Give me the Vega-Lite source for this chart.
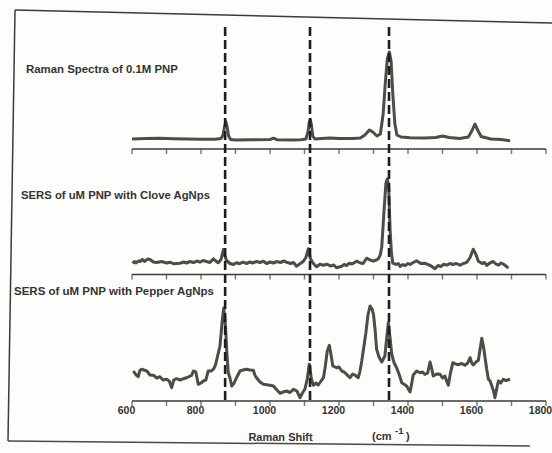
{
  "$schema": "https://vega.github.io/schema/vega-lite/v6.json",
  "width": 537,
  "height": 427,
  "autosize": {"type": "none"},
  "padding": {"left": 15, "top": 14, "right": 0, "bottom": 12},
  "background": "#fdfdfc",
  "config": {"view": {"stroke": null}, "font": "Liberation Sans"},
  "datasets": {
    "spectra": [
      {"series": "Raman 0.1M PNP", "shift": 600, "intensity": 302},
      {"series": "Raman 0.1M PNP", "shift": 640, "intensity": 302.5},
      {"series": "Raman 0.1M PNP", "shift": 680, "intensity": 302.8},
      {"series": "Raman 0.1M PNP", "shift": 720, "intensity": 302.3},
      {"series": "Raman 0.1M PNP", "shift": 760, "intensity": 302},
      {"series": "Raman 0.1M PNP", "shift": 800, "intensity": 301.8},
      {"series": "Raman 0.1M PNP", "shift": 840, "intensity": 301.8},
      {"series": "Raman 0.1M PNP", "shift": 858, "intensity": 302.5},
      {"series": "Raman 0.1M PNP", "shift": 864, "intensity": 306},
      {"series": "Raman 0.1M PNP", "shift": 868, "intensity": 314},
      {"series": "Raman 0.1M PNP", "shift": 872, "intensity": 319.5},
      {"series": "Raman 0.1M PNP", "shift": 876, "intensity": 314},
      {"series": "Raman 0.1M PNP", "shift": 880, "intensity": 305},
      {"series": "Raman 0.1M PNP", "shift": 886, "intensity": 301.5},
      {"series": "Raman 0.1M PNP", "shift": 900, "intensity": 301},
      {"series": "Raman 0.1M PNP", "shift": 950, "intensity": 301.2},
      {"series": "Raman 0.1M PNP", "shift": 1000, "intensity": 301.5},
      {"series": "Raman 0.1M PNP", "shift": 1010, "intensity": 302.8},
      {"series": "Raman 0.1M PNP", "shift": 1020, "intensity": 301.3},
      {"series": "Raman 0.1M PNP", "shift": 1060, "intensity": 301},
      {"series": "Raman 0.1M PNP", "shift": 1090, "intensity": 301.3},
      {"series": "Raman 0.1M PNP", "shift": 1104, "intensity": 302},
      {"series": "Raman 0.1M PNP", "shift": 1110, "intensity": 309},
      {"series": "Raman 0.1M PNP", "shift": 1114, "intensity": 319},
      {"series": "Raman 0.1M PNP", "shift": 1117, "intensity": 321.5},
      {"series": "Raman 0.1M PNP", "shift": 1120, "intensity": 316},
      {"series": "Raman 0.1M PNP", "shift": 1124, "intensity": 305},
      {"series": "Raman 0.1M PNP", "shift": 1130, "intensity": 302},
      {"series": "Raman 0.1M PNP", "shift": 1150, "intensity": 302.5},
      {"series": "Raman 0.1M PNP", "shift": 1174, "intensity": 303},
      {"series": "Raman 0.1M PNP", "shift": 1200, "intensity": 302.5},
      {"series": "Raman 0.1M PNP", "shift": 1240, "intensity": 302.5},
      {"series": "Raman 0.1M PNP", "shift": 1262, "intensity": 303},
      {"series": "Raman 0.1M PNP", "shift": 1275, "intensity": 306},
      {"series": "Raman 0.1M PNP", "shift": 1288, "intensity": 311},
      {"series": "Raman 0.1M PNP", "shift": 1298, "intensity": 309},
      {"series": "Raman 0.1M PNP", "shift": 1310, "intensity": 305},
      {"series": "Raman 0.1M PNP", "shift": 1320, "intensity": 307},
      {"series": "Raman 0.1M PNP", "shift": 1328, "intensity": 327},
      {"series": "Raman 0.1M PNP", "shift": 1334, "intensity": 357},
      {"series": "Raman 0.1M PNP", "shift": 1340, "intensity": 382},
      {"series": "Raman 0.1M PNP", "shift": 1346, "intensity": 389},
      {"series": "Raman 0.1M PNP", "shift": 1351, "intensity": 380},
      {"series": "Raman 0.1M PNP", "shift": 1356, "intensity": 347},
      {"series": "Raman 0.1M PNP", "shift": 1362, "intensity": 317},
      {"series": "Raman 0.1M PNP", "shift": 1368, "intensity": 306},
      {"series": "Raman 0.1M PNP", "shift": 1380, "intensity": 304},
      {"series": "Raman 0.1M PNP", "shift": 1406, "intensity": 303.3},
      {"series": "Raman 0.1M PNP", "shift": 1450, "intensity": 303},
      {"series": "Raman 0.1M PNP", "shift": 1480, "intensity": 303.5},
      {"series": "Raman 0.1M PNP", "shift": 1500, "intensity": 305},
      {"series": "Raman 0.1M PNP", "shift": 1520, "intensity": 303.5},
      {"series": "Raman 0.1M PNP", "shift": 1550, "intensity": 302.5},
      {"series": "Raman 0.1M PNP", "shift": 1575, "intensity": 304},
      {"series": "Raman 0.1M PNP", "shift": 1585, "intensity": 310},
      {"series": "Raman 0.1M PNP", "shift": 1594, "intensity": 317},
      {"series": "Raman 0.1M PNP", "shift": 1602, "intensity": 311},
      {"series": "Raman 0.1M PNP", "shift": 1612, "intensity": 304.5},
      {"series": "Raman 0.1M PNP", "shift": 1640, "intensity": 302},
      {"series": "Raman 0.1M PNP", "shift": 1670, "intensity": 301.5},
      {"series": "Raman 0.1M PNP", "shift": 1696, "intensity": 300.3},

      {"series": "SERS Clove AgNps", "shift": 602, "intensity": 177.5},
      {"series": "SERS Clove AgNps", "shift": 607, "intensity": 179.5},
      {"series": "SERS Clove AgNps", "shift": 612, "intensity": 178},
      {"series": "SERS Clove AgNps", "shift": 618, "intensity": 180},
      {"series": "SERS Clove AgNps", "shift": 623, "intensity": 179.5},
      {"series": "SERS Clove AgNps", "shift": 630, "intensity": 181.5},
      {"series": "SERS Clove AgNps", "shift": 637, "intensity": 179.5},
      {"series": "SERS Clove AgNps", "shift": 645, "intensity": 182},
      {"series": "SERS Clove AgNps", "shift": 652, "intensity": 181.5},
      {"series": "SERS Clove AgNps", "shift": 662, "intensity": 179},
      {"series": "SERS Clove AgNps", "shift": 672, "intensity": 178.5},
      {"series": "SERS Clove AgNps", "shift": 686, "intensity": 179.5},
      {"series": "SERS Clove AgNps", "shift": 700, "intensity": 178},
      {"series": "SERS Clove AgNps", "shift": 710, "intensity": 178.8},
      {"series": "SERS Clove AgNps", "shift": 720, "intensity": 177.3},
      {"series": "SERS Clove AgNps", "shift": 739, "intensity": 177.8},
      {"series": "SERS Clove AgNps", "shift": 750, "intensity": 179},
      {"series": "SERS Clove AgNps", "shift": 758, "intensity": 178},
      {"series": "SERS Clove AgNps", "shift": 768, "intensity": 179.5},
      {"series": "SERS Clove AgNps", "shift": 778, "intensity": 178.5},
      {"series": "SERS Clove AgNps", "shift": 790, "intensity": 180},
      {"series": "SERS Clove AgNps", "shift": 797, "intensity": 178.8},
      {"series": "SERS Clove AgNps", "shift": 806, "intensity": 180.5},
      {"series": "SERS Clove AgNps", "shift": 816, "intensity": 179.5},
      {"series": "SERS Clove AgNps", "shift": 826, "intensity": 178.5},
      {"series": "SERS Clove AgNps", "shift": 836, "intensity": 182.2},
      {"series": "SERS Clove AgNps", "shift": 843, "intensity": 180},
      {"series": "SERS Clove AgNps", "shift": 850, "intensity": 178.2},
      {"series": "SERS Clove AgNps", "shift": 858, "intensity": 181.5},
      {"series": "SERS Clove AgNps", "shift": 865, "intensity": 191.5},
      {"series": "SERS Clove AgNps", "shift": 870, "intensity": 184.5},
      {"series": "SERS Clove AgNps", "shift": 874, "intensity": 180.5},
      {"series": "SERS Clove AgNps", "shift": 884, "intensity": 177.5},
      {"series": "SERS Clove AgNps", "shift": 894, "intensity": 176.5},
      {"series": "SERS Clove AgNps", "shift": 903, "intensity": 178.3},
      {"series": "SERS Clove AgNps", "shift": 912, "intensity": 177.3},
      {"series": "SERS Clove AgNps", "shift": 922, "intensity": 178.8},
      {"series": "SERS Clove AgNps", "shift": 932, "intensity": 177.5},
      {"series": "SERS Clove AgNps", "shift": 942, "intensity": 179},
      {"series": "SERS Clove AgNps", "shift": 950, "intensity": 178},
      {"series": "SERS Clove AgNps", "shift": 961, "intensity": 179.5},
      {"series": "SERS Clove AgNps", "shift": 971, "intensity": 178.5},
      {"series": "SERS Clove AgNps", "shift": 981, "intensity": 179.8},
      {"series": "SERS Clove AgNps", "shift": 990, "intensity": 177.5},
      {"series": "SERS Clove AgNps", "shift": 1000, "intensity": 179},
      {"series": "SERS Clove AgNps", "shift": 1010, "intensity": 178},
      {"series": "SERS Clove AgNps", "shift": 1020, "intensity": 179.5},
      {"series": "SERS Clove AgNps", "shift": 1030, "intensity": 178.5},
      {"series": "SERS Clove AgNps", "shift": 1040, "intensity": 180},
      {"series": "SERS Clove AgNps", "shift": 1048, "intensity": 178.8},
      {"series": "SERS Clove AgNps", "shift": 1060, "intensity": 177.5},
      {"series": "SERS Clove AgNps", "shift": 1068, "intensity": 178.5},
      {"series": "SERS Clove AgNps", "shift": 1077, "intensity": 174.8},
      {"series": "SERS Clove AgNps", "shift": 1088, "intensity": 177.5},
      {"series": "SERS Clove AgNps", "shift": 1097, "intensity": 179.8},
      {"series": "SERS Clove AgNps", "shift": 1104, "intensity": 183.5},
      {"series": "SERS Clove AgNps", "shift": 1111, "intensity": 192.2},
      {"series": "SERS Clove AgNps", "shift": 1117, "intensity": 182.5},
      {"series": "SERS Clove AgNps", "shift": 1124, "intensity": 178.2},
      {"series": "SERS Clove AgNps", "shift": 1130, "intensity": 176},
      {"series": "SERS Clove AgNps", "shift": 1135, "intensity": 174.2},
      {"series": "SERS Clove AgNps", "shift": 1145, "intensity": 176.8},
      {"series": "SERS Clove AgNps", "shift": 1155, "intensity": 175.8},
      {"series": "SERS Clove AgNps", "shift": 1165, "intensity": 176.8},
      {"series": "SERS Clove AgNps", "shift": 1175, "intensity": 175},
      {"series": "SERS Clove AgNps", "shift": 1185, "intensity": 176},
      {"series": "SERS Clove AgNps", "shift": 1193, "intensity": 173.2},
      {"series": "SERS Clove AgNps", "shift": 1208, "intensity": 174.8},
      {"series": "SERS Clove AgNps", "shift": 1215, "intensity": 176.5},
      {"series": "SERS Clove AgNps", "shift": 1222, "intensity": 175.5},
      {"series": "SERS Clove AgNps", "shift": 1230, "intensity": 177.8},
      {"series": "SERS Clove AgNps", "shift": 1238, "intensity": 177},
      {"series": "SERS Clove AgNps", "shift": 1251, "intensity": 179.8},
      {"series": "SERS Clove AgNps", "shift": 1262, "intensity": 178},
      {"series": "SERS Clove AgNps", "shift": 1270, "intensity": 177.5},
      {"series": "SERS Clove AgNps", "shift": 1280, "intensity": 182.8},
      {"series": "SERS Clove AgNps", "shift": 1290, "intensity": 181},
      {"series": "SERS Clove AgNps", "shift": 1300, "intensity": 179.8},
      {"series": "SERS Clove AgNps", "shift": 1308, "intensity": 181},
      {"series": "SERS Clove AgNps", "shift": 1314, "intensity": 182.2},
      {"series": "SERS Clove AgNps", "shift": 1320, "intensity": 186.5},
      {"series": "SERS Clove AgNps", "shift": 1324, "intensity": 194.2},
      {"series": "SERS Clove AgNps", "shift": 1330, "intensity": 227.5},
      {"series": "SERS Clove AgNps", "shift": 1336, "intensity": 258},
      {"series": "SERS Clove AgNps", "shift": 1340, "intensity": 262},
      {"series": "SERS Clove AgNps", "shift": 1344, "intensity": 255},
      {"series": "SERS Clove AgNps", "shift": 1348, "intensity": 211.5},
      {"series": "SERS Clove AgNps", "shift": 1352, "intensity": 188},
      {"series": "SERS Clove AgNps", "shift": 1356, "intensity": 177.8},
      {"series": "SERS Clove AgNps", "shift": 1366, "intensity": 176.5},
      {"series": "SERS Clove AgNps", "shift": 1372, "intensity": 177.5},
      {"series": "SERS Clove AgNps", "shift": 1377, "intensity": 174.5},
      {"series": "SERS Clove AgNps", "shift": 1385, "intensity": 176.5},
      {"series": "SERS Clove AgNps", "shift": 1392, "intensity": 175.3},
      {"series": "SERS Clove AgNps", "shift": 1400, "intensity": 177.5},
      {"series": "SERS Clove AgNps", "shift": 1406, "intensity": 176.5},
      {"series": "SERS Clove AgNps", "shift": 1415, "intensity": 178.5},
      {"series": "SERS Clove AgNps", "shift": 1425, "intensity": 180.2},
      {"series": "SERS Clove AgNps", "shift": 1437, "intensity": 177.5},
      {"series": "SERS Clove AgNps", "shift": 1449, "intensity": 177.8},
      {"series": "SERS Clove AgNps", "shift": 1457, "intensity": 176.5},
      {"series": "SERS Clove AgNps", "shift": 1465, "intensity": 175.5},
      {"series": "SERS Clove AgNps", "shift": 1478, "intensity": 172.2},
      {"series": "SERS Clove AgNps", "shift": 1487, "intensity": 175.5},
      {"series": "SERS Clove AgNps", "shift": 1495, "intensity": 174.5},
      {"series": "SERS Clove AgNps", "shift": 1504, "intensity": 176.8},
      {"series": "SERS Clove AgNps", "shift": 1512, "intensity": 175.8},
      {"series": "SERS Clove AgNps", "shift": 1521, "intensity": 177.5},
      {"series": "SERS Clove AgNps", "shift": 1530, "intensity": 176.5},
      {"series": "SERS Clove AgNps", "shift": 1540, "intensity": 177.5},
      {"series": "SERS Clove AgNps", "shift": 1551, "intensity": 175.8},
      {"series": "SERS Clove AgNps", "shift": 1560, "intensity": 177.5},
      {"series": "SERS Clove AgNps", "shift": 1570, "intensity": 178.5},
      {"series": "SERS Clove AgNps", "shift": 1580, "intensity": 183.5},
      {"series": "SERS Clove AgNps", "shift": 1589, "intensity": 191.8},
      {"series": "SERS Clove AgNps", "shift": 1597, "intensity": 186.5},
      {"series": "SERS Clove AgNps", "shift": 1604, "intensity": 179.8},
      {"series": "SERS Clove AgNps", "shift": 1615, "intensity": 177.5},
      {"series": "SERS Clove AgNps", "shift": 1622, "intensity": 178.5},
      {"series": "SERS Clove AgNps", "shift": 1628, "intensity": 175.5},
      {"series": "SERS Clove AgNps", "shift": 1637, "intensity": 178},
      {"series": "SERS Clove AgNps", "shift": 1647, "intensity": 179.5},
      {"series": "SERS Clove AgNps", "shift": 1655, "intensity": 177},
      {"series": "SERS Clove AgNps", "shift": 1662, "intensity": 175.8},
      {"series": "SERS Clove AgNps", "shift": 1670, "intensity": 178},
      {"series": "SERS Clove AgNps", "shift": 1676, "intensity": 177},
      {"series": "SERS Clove AgNps", "shift": 1684, "intensity": 175},
      {"series": "SERS Clove AgNps", "shift": 1691, "intensity": 172.8},

      {"series": "SERS Pepper AgNps", "shift": 604, "intensity": 70},
      {"series": "SERS Pepper AgNps", "shift": 612, "intensity": 66},
      {"series": "SERS Pepper AgNps", "shift": 618, "intensity": 64.3},
      {"series": "SERS Pepper AgNps", "shift": 623, "intensity": 70.5},
      {"series": "SERS Pepper AgNps", "shift": 628, "intensity": 71.7},
      {"series": "SERS Pepper AgNps", "shift": 643, "intensity": 70},
      {"series": "SERS Pepper AgNps", "shift": 652, "intensity": 66},
      {"series": "SERS Pepper AgNps", "shift": 662, "intensity": 65.7},
      {"series": "SERS Pepper AgNps", "shift": 672, "intensity": 63},
      {"series": "SERS Pepper AgNps", "shift": 681, "intensity": 64.3},
      {"series": "SERS Pepper AgNps", "shift": 690, "intensity": 61},
      {"series": "SERS Pepper AgNps", "shift": 700, "intensity": 61.7},
      {"series": "SERS Pepper AgNps", "shift": 708, "intensity": 60},
      {"series": "SERS Pepper AgNps", "shift": 715, "intensity": 53.3},
      {"series": "SERS Pepper AgNps", "shift": 721, "intensity": 61},
      {"series": "SERS Pepper AgNps", "shift": 729, "intensity": 62.3},
      {"series": "SERS Pepper AgNps", "shift": 740, "intensity": 61},
      {"series": "SERS Pepper AgNps", "shift": 749, "intensity": 62.3},
      {"series": "SERS Pepper AgNps", "shift": 760, "intensity": 63.5},
      {"series": "SERS Pepper AgNps", "shift": 773, "intensity": 65.7},
      {"series": "SERS Pepper AgNps", "shift": 778, "intensity": 70},
      {"series": "SERS Pepper AgNps", "shift": 785, "intensity": 69},
      {"series": "SERS Pepper AgNps", "shift": 792, "intensity": 56.7},
      {"series": "SERS Pepper AgNps", "shift": 800, "intensity": 58},
      {"series": "SERS Pepper AgNps", "shift": 807, "intensity": 60},
      {"series": "SERS Pepper AgNps", "shift": 814, "intensity": 61},
      {"series": "SERS Pepper AgNps", "shift": 821, "intensity": 70},
      {"series": "SERS Pepper AgNps", "shift": 829, "intensity": 70},
      {"series": "SERS Pepper AgNps", "shift": 836, "intensity": 71.7},
      {"series": "SERS Pepper AgNps", "shift": 842, "intensity": 76},
      {"series": "SERS Pepper AgNps", "shift": 847, "intensity": 83.3},
      {"series": "SERS Pepper AgNps", "shift": 855, "intensity": 95},
      {"series": "SERS Pepper AgNps", "shift": 861, "intensity": 118},
      {"series": "SERS Pepper AgNps", "shift": 866, "intensity": 133},
      {"series": "SERS Pepper AgNps", "shift": 871, "intensity": 115},
      {"series": "SERS Pepper AgNps", "shift": 875, "intensity": 88},
      {"series": "SERS Pepper AgNps", "shift": 879, "intensity": 68.3},
      {"series": "SERS Pepper AgNps", "shift": 884, "intensity": 63},
      {"series": "SERS Pepper AgNps", "shift": 889, "intensity": 55},
      {"series": "SERS Pepper AgNps", "shift": 896, "intensity": 58},
      {"series": "SERS Pepper AgNps", "shift": 903, "intensity": 63.3},
      {"series": "SERS Pepper AgNps", "shift": 913, "intensity": 70},
      {"series": "SERS Pepper AgNps", "shift": 922, "intensity": 71},
      {"series": "SERS Pepper AgNps", "shift": 932, "intensity": 71.7},
      {"series": "SERS Pepper AgNps", "shift": 942, "intensity": 71},
      {"series": "SERS Pepper AgNps", "shift": 952, "intensity": 70.7},
      {"series": "SERS Pepper AgNps", "shift": 956, "intensity": 66},
      {"series": "SERS Pepper AgNps", "shift": 961, "intensity": 63.3},
      {"series": "SERS Pepper AgNps", "shift": 971, "intensity": 59},
      {"series": "SERS Pepper AgNps", "shift": 981, "intensity": 56.7},
      {"series": "SERS Pepper AgNps", "shift": 995, "intensity": 56},
      {"series": "SERS Pepper AgNps", "shift": 1010, "intensity": 55},
      {"series": "SERS Pepper AgNps", "shift": 1020, "intensity": 51},
      {"series": "SERS Pepper AgNps", "shift": 1029, "intensity": 47.7},
      {"series": "SERS Pepper AgNps", "shift": 1038, "intensity": 49},
      {"series": "SERS Pepper AgNps", "shift": 1048, "intensity": 50},
      {"series": "SERS Pepper AgNps", "shift": 1058, "intensity": 48.5},
      {"series": "SERS Pepper AgNps", "shift": 1068, "intensity": 51.7},
      {"series": "SERS Pepper AgNps", "shift": 1078, "intensity": 50},
      {"series": "SERS Pepper AgNps", "shift": 1087, "intensity": 43.3},
      {"series": "SERS Pepper AgNps", "shift": 1094, "intensity": 48},
      {"series": "SERS Pepper AgNps", "shift": 1101, "intensity": 51.7},
      {"series": "SERS Pepper AgNps", "shift": 1108, "intensity": 62},
      {"series": "SERS Pepper AgNps", "shift": 1114, "intensity": 76.7},
      {"series": "SERS Pepper AgNps", "shift": 1120, "intensity": 62},
      {"series": "SERS Pepper AgNps", "shift": 1126, "intensity": 55.7},
      {"series": "SERS Pepper AgNps", "shift": 1133, "intensity": 58},
      {"series": "SERS Pepper AgNps", "shift": 1140, "intensity": 56},
      {"series": "SERS Pepper AgNps", "shift": 1148, "intensity": 60},
      {"series": "SERS Pepper AgNps", "shift": 1155, "intensity": 63.3},
      {"series": "SERS Pepper AgNps", "shift": 1160, "intensity": 74},
      {"series": "SERS Pepper AgNps", "shift": 1166, "intensity": 90},
      {"series": "SERS Pepper AgNps", "shift": 1172, "intensity": 95.7},
      {"series": "SERS Pepper AgNps", "shift": 1177, "intensity": 86},
      {"series": "SERS Pepper AgNps", "shift": 1182, "intensity": 75},
      {"series": "SERS Pepper AgNps", "shift": 1193, "intensity": 73.3},
      {"series": "SERS Pepper AgNps", "shift": 1200, "intensity": 74},
      {"series": "SERS Pepper AgNps", "shift": 1208, "intensity": 70},
      {"series": "SERS Pepper AgNps", "shift": 1215, "intensity": 69},
      {"series": "SERS Pepper AgNps", "shift": 1222, "intensity": 66.7},
      {"series": "SERS Pepper AgNps", "shift": 1232, "intensity": 63.3},
      {"series": "SERS Pepper AgNps", "shift": 1240, "intensity": 67},
      {"series": "SERS Pepper AgNps", "shift": 1246, "intensity": 66},
      {"series": "SERS Pepper AgNps", "shift": 1256, "intensity": 63.3},
      {"series": "SERS Pepper AgNps", "shift": 1261, "intensity": 70},
      {"series": "SERS Pepper AgNps", "shift": 1266, "intensity": 80},
      {"series": "SERS Pepper AgNps", "shift": 1272, "intensity": 94},
      {"series": "SERS Pepper AgNps", "shift": 1278, "intensity": 108.3},
      {"series": "SERS Pepper AgNps", "shift": 1284, "intensity": 126},
      {"series": "SERS Pepper AgNps", "shift": 1290, "intensity": 135},
      {"series": "SERS Pepper AgNps", "shift": 1296, "intensity": 132},
      {"series": "SERS Pepper AgNps", "shift": 1300, "intensity": 126.7},
      {"series": "SERS Pepper AgNps", "shift": 1305, "intensity": 110},
      {"series": "SERS Pepper AgNps", "shift": 1309, "intensity": 91.7},
      {"series": "SERS Pepper AgNps", "shift": 1316, "intensity": 84},
      {"series": "SERS Pepper AgNps", "shift": 1324, "intensity": 79},
      {"series": "SERS Pepper AgNps", "shift": 1333, "intensity": 85},
      {"series": "SERS Pepper AgNps", "shift": 1338, "intensity": 102},
      {"series": "SERS Pepper AgNps", "shift": 1343, "intensity": 118.3},
      {"series": "SERS Pepper AgNps", "shift": 1348, "intensity": 103},
      {"series": "SERS Pepper AgNps", "shift": 1353, "intensity": 86.7},
      {"series": "SERS Pepper AgNps", "shift": 1360, "intensity": 78},
      {"series": "SERS Pepper AgNps", "shift": 1367, "intensity": 73.3},
      {"series": "SERS Pepper AgNps", "shift": 1375, "intensity": 66},
      {"series": "SERS Pepper AgNps", "shift": 1382, "intensity": 58.3},
      {"series": "SERS Pepper AgNps", "shift": 1396, "intensity": 55},
      {"series": "SERS Pepper AgNps", "shift": 1406, "intensity": 49},
      {"series": "SERS Pepper AgNps", "shift": 1411, "intensity": 58},
      {"series": "SERS Pepper AgNps", "shift": 1415, "intensity": 66},
      {"series": "SERS Pepper AgNps", "shift": 1425, "intensity": 70},
      {"series": "SERS Pepper AgNps", "shift": 1435, "intensity": 68.3},
      {"series": "SERS Pepper AgNps", "shift": 1442, "intensity": 69},
      {"series": "SERS Pepper AgNps", "shift": 1449, "intensity": 66.7},
      {"series": "SERS Pepper AgNps", "shift": 1457, "intensity": 68},
      {"series": "SERS Pepper AgNps", "shift": 1464, "intensity": 79},
      {"series": "SERS Pepper AgNps", "shift": 1469, "intensity": 72},
      {"series": "SERS Pepper AgNps", "shift": 1473, "intensity": 65},
      {"series": "SERS Pepper AgNps", "shift": 1483, "intensity": 67},
      {"series": "SERS Pepper AgNps", "shift": 1493, "intensity": 66.7},
      {"series": "SERS Pepper AgNps", "shift": 1500, "intensity": 63},
      {"series": "SERS Pepper AgNps", "shift": 1507, "intensity": 65},
      {"series": "SERS Pepper AgNps", "shift": 1512, "intensity": 60},
      {"series": "SERS Pepper AgNps", "shift": 1517, "intensity": 55.7},
      {"series": "SERS Pepper AgNps", "shift": 1523, "intensity": 68},
      {"series": "SERS Pepper AgNps", "shift": 1530, "intensity": 78.3},
      {"series": "SERS Pepper AgNps", "shift": 1538, "intensity": 77},
      {"series": "SERS Pepper AgNps", "shift": 1546, "intensity": 76.3},
      {"series": "SERS Pepper AgNps", "shift": 1556, "intensity": 77.5},
      {"series": "SERS Pepper AgNps", "shift": 1565, "intensity": 75.7},
      {"series": "SERS Pepper AgNps", "shift": 1573, "intensity": 78},
      {"series": "SERS Pepper AgNps", "shift": 1580, "intensity": 83.3},
      {"series": "SERS Pepper AgNps", "shift": 1585, "intensity": 78},
      {"series": "SERS Pepper AgNps", "shift": 1589, "intensity": 76},
      {"series": "SERS Pepper AgNps", "shift": 1597, "intensity": 79},
      {"series": "SERS Pepper AgNps", "shift": 1604, "intensity": 80.7},
      {"series": "SERS Pepper AgNps", "shift": 1609, "intensity": 92},
      {"series": "SERS Pepper AgNps", "shift": 1614, "intensity": 102.7},
      {"series": "SERS Pepper AgNps", "shift": 1619, "intensity": 94},
      {"series": "SERS Pepper AgNps", "shift": 1623, "intensity": 84.3},
      {"series": "SERS Pepper AgNps", "shift": 1628, "intensity": 72},
      {"series": "SERS Pepper AgNps", "shift": 1633, "intensity": 61.7},
      {"series": "SERS Pepper AgNps", "shift": 1638, "intensity": 60},
      {"series": "SERS Pepper AgNps", "shift": 1643, "intensity": 55},
      {"series": "SERS Pepper AgNps", "shift": 1648, "intensity": 50},
      {"series": "SERS Pepper AgNps", "shift": 1652, "intensity": 43.3},
      {"series": "SERS Pepper AgNps", "shift": 1657, "intensity": 52},
      {"series": "SERS Pepper AgNps", "shift": 1662, "intensity": 60},
      {"series": "SERS Pepper AgNps", "shift": 1669, "intensity": 58},
      {"series": "SERS Pepper AgNps", "shift": 1676, "intensity": 61.7},
      {"series": "SERS Pepper AgNps", "shift": 1684, "intensity": 60.5},
      {"series": "SERS Pepper AgNps", "shift": 1696, "intensity": 61.7}
    ],
    "ticks": [
      {"shift": 600}, {"shift": 700}, {"shift": 800}, {"shift": 900}, {"shift": 1000},
      {"shift": 1100}, {"shift": 1200}, {"shift": 1300}, {"shift": 1400}, {"shift": 1500},
      {"shift": 1600}, {"shift": 1700}, {"shift": 1800}
    ],
    "markers": [{"shift": 870}, {"shift": 1116}, {"shift": 1345}],
    "one": [{}]
  },
  "layer": [
    {
      "data": {"name": "spectra"},
      "mark": {"type": "line", "color": "#4f4c47", "strokeWidth": 3, "strokeJoin": "round"},
      "encoding": {
        "x": {
          "field": "shift", "type": "quantitative",
          "scale": {"domain": [260.9, 1817.4], "nice": false, "zero": false},
          "axis": {
            "values": [600, 800, 1000, 1200, 1400, 1600, 1800], "format": "d",
            "offset": -40, "domain": false, "ticks": false, "tickSize": 0, "grid": false,
            "labelFont": "Liberation Sans", "labelFontWeight": "bold", "labelFontSize": 10.5, "labelColor": "#333333",
            "labelPadding": 4, "labelOffset": -6, "labelFlush": false, "labelOverlap": false,
            "title": "Raman Shift", "titleFont": "Liberation Sans", "titleFontWeight": "bold", "titleFontSize": 11,
            "titleColor": "#333333", "titleX": 265, "titleY": 36, "titleBaseline": "middle", "titleAlign": "center"
          }
        },
        "y": {"field": "intensity", "type": "quantitative", "scale": {"domain": [0, 427], "nice": false, "zero": false}, "axis": null},
        "detail": {"field": "series"}
      }
    },
    {
      "data": {"name": "one"},
      "mark": {"type": "rule", "color": "#3c3c3c", "strokeWidth": 1.5},
      "encoding": {
        "x": {"datum": 260.9, "type": "quantitative"},
        "x2": {"datum": 1817.4},
        "y": {"datum": 431, "type": "quantitative", "axis": null},
        "y2": {"datum": 418}
      }
    },
    {
      "data": {"name": "one"},
      "mark": {"type": "rule", "color": "#3c3c3c", "strokeWidth": 1.5},
      "encoding": {
        "x": {"datum": 260.9, "type": "quantitative"},
        "x2": {"datum": 240.6},
        "y": {"datum": 431, "type": "quantitative", "axis": null},
        "y2": {"datum": 0}
      }
    },
    {
      "data": {"name": "one"},
      "mark": {"type": "rule", "color": "#4a4a4a", "strokeWidth": 1.5},
      "encoding": {
        "x": {"datum": 240.6, "type": "quantitative"},
        "x2": {"datum": 1753.6},
        "y": {"datum": 0, "type": "quantitative", "axis": null},
        "y2": {"datum": -5}
      }
    },
    {
      "data": {"name": "one"},
      "mark": {"type": "rule", "color": "#3a3a3a", "strokeWidth": 1.6},
      "encoding": {
        "x": {"datum": 600, "type": "quantitative"},
        "x2": {"datum": 1800},
        "y": {"datum": 292, "type": "quantitative", "axis": null}
      }
    },
    {
      "data": {"name": "one"},
      "mark": {"type": "rule", "color": "#3a3a3a", "strokeWidth": 1.6},
      "encoding": {
        "x": {"datum": 600, "type": "quantitative"},
        "x2": {"datum": 1800},
        "y": {"datum": 166.5, "type": "quantitative", "axis": null}
      }
    },
    {
      "data": {"name": "one"},
      "mark": {"type": "rule", "color": "#3a3a3a", "strokeWidth": 1.6},
      "encoding": {
        "x": {"datum": 600, "type": "quantitative"},
        "x2": {"datum": 1800},
        "y": {"datum": 40, "type": "quantitative", "axis": null}
      }
    },
    {
      "data": {"name": "ticks"},
      "mark": {"type": "tick", "orient": "vertical", "color": "#3a3a3a", "size": 5, "thickness": 1.4, "yOffset": 2.5},
      "encoding": {
        "x": {"field": "shift", "type": "quantitative"},
        "y": {"datum": 292, "type": "quantitative", "axis": null}
      }
    },
    {
      "data": {"name": "ticks"},
      "mark": {"type": "tick", "orient": "vertical", "color": "#3a3a3a", "size": 5, "thickness": 1.4, "yOffset": 2.5},
      "encoding": {
        "x": {"field": "shift", "type": "quantitative"},
        "y": {"datum": 166.5, "type": "quantitative", "axis": null}
      }
    },
    {
      "data": {"name": "ticks"},
      "mark": {"type": "tick", "orient": "vertical", "color": "#3a3a3a", "size": 5, "thickness": 1.4, "yOffset": 2.5},
      "encoding": {
        "x": {"field": "shift", "type": "quantitative"},
        "y": {"datum": 40, "type": "quantitative", "axis": null}
      }
    },
    {
      "data": {"name": "markers"},
      "mark": {"type": "rule", "color": "#1e1e1e", "strokeWidth": 2.6, "strokeDash": [9, 4]},
      "encoding": {
        "x": {"field": "shift", "type": "quantitative"},
        "y": {"datum": 41, "type": "quantitative", "axis": null},
        "y2": {"datum": 418}
      }
    },
    {
      "data": {"name": "one"},
      "mark": {"type": "text", "text": "Raman Spectra of 0.1M PNP", "align": "left", "baseline": "middle", "font": "Liberation Sans", "fontWeight": "bold", "fontSize": 11.4, "color": "#333333"},
      "encoding": {
        "x": {"datum": 292.8, "type": "quantitative"},
        "y": {"datum": 371, "type": "quantitative", "axis": null}
      }
    },
    {
      "data": {"name": "one"},
      "mark": {"type": "text", "text": "SERS of uM PNP with Clove AgNps", "align": "left", "baseline": "middle", "font": "Liberation Sans", "fontWeight": "bold", "fontSize": 11.3, "color": "#333333"},
      "encoding": {
        "x": {"datum": 278.3, "type": "quantitative"},
        "y": {"datum": 245, "type": "quantitative", "axis": null}
      }
    },
    {
      "data": {"name": "one"},
      "mark": {"type": "text", "text": "SERS of uM PNP with Pepper AgNps", "align": "left", "baseline": "middle", "font": "Liberation Sans", "fontWeight": "bold", "fontSize": 11.5, "color": "#333333"},
      "encoding": {
        "x": {"datum": 258, "type": "quantitative"},
        "y": {"datum": 149, "type": "quantitative", "axis": null}
      }
    },
    {
      "data": {"name": "one"},
      "mark": {"type": "text", "text": "(cm", "align": "left", "baseline": "middle", "font": "Liberation Sans", "fontWeight": "bold", "fontSize": 11, "color": "#333333"},
      "encoding": {
        "x": {"datum": 1295.7, "type": "quantitative"},
        "y": {"datum": 4, "type": "quantitative", "axis": null}
      }
    },
    {
      "data": {"name": "one"},
      "mark": {"type": "text", "text": "-1", "align": "left", "baseline": "middle", "dy": -6, "font": "Liberation Sans", "fontWeight": "bold", "fontSize": 9.5, "color": "#333333"},
      "encoding": {
        "x": {"datum": 1362.3, "type": "quantitative"},
        "y": {"datum": 4, "type": "quantitative", "axis": null}
      }
    },
    {
      "data": {"name": "one"},
      "mark": {"type": "text", "text": ")", "align": "left", "baseline": "middle", "font": "Liberation Sans", "fontWeight": "bold", "fontSize": 11, "color": "#333333"},
      "encoding": {
        "x": {"datum": 1394.2, "type": "quantitative"},
        "y": {"datum": 4, "type": "quantitative", "axis": null}
      }
    }
  ]
}
